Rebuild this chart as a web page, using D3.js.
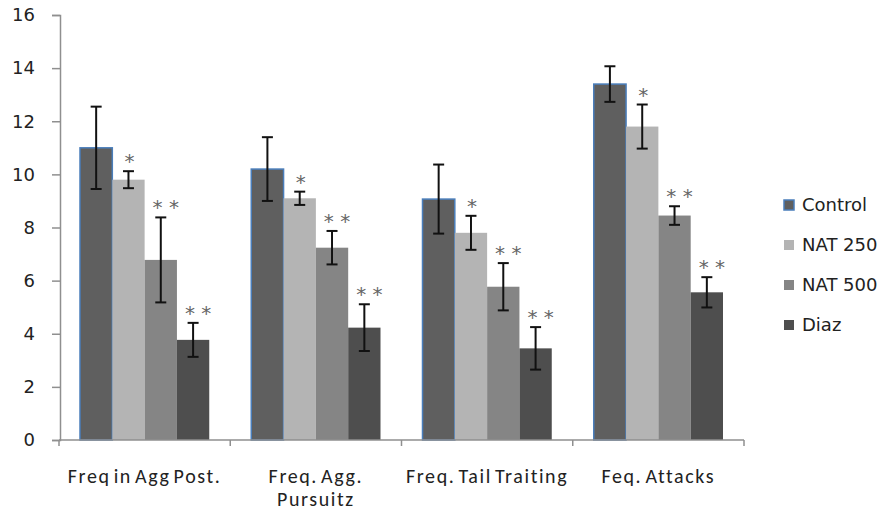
<!DOCTYPE html>
<html>
<head>
<meta charset="utf-8">
<script src="https://cdn.jsdelivr.net/npm/d3@7/dist/d3.min.js"></script>
<style>
  html, body { margin: 0; padding: 0; background: #fff; }
  svg { display: block; }
</style>
</head>
<body>
<svg id="chart" width="885" height="512"></svg>
<script>
// Behavioural measures per treatment group (mean ± SEM)
const categories = ["Freq in Agg Post.", "Freq. Agg. Pursuitz", "Freq. Tail Traiting", "Feq. Attacks"];
const seriesNames = ["Control", "NAT 250", "NAT 500", "Diaz"];
const controlValues = [11.0, 10.2, 9.07, 13.4];
const controlErrors = [1.55, 1.2, 1.3, 0.67];
const nat250Values = [9.8, 9.1, 7.8, 11.8];
const nat250Errors = [0.32, 0.25, 0.64, 0.83];
const nat500Values = [6.78, 7.24, 5.77, 8.45];
const nat500Errors = [1.6, 0.63, 0.89, 0.35];
const diazValues = [3.77, 4.23, 3.45, 5.56];
const diazErrors = [0.64, 0.88, 0.8, 0.57];
const significance = ["", "*", "* *", "* *"];
const yTicks = [0, 2, 4, 6, 8, 10, 12, 14, 16];

const seriesValues = [controlValues, nat250Values, nat500Values, diazValues];
const seriesErrors = [controlErrors, nat250Errors, nat500Errors, diazErrors];
const fills = ["#5f5f5f", "#b4b4b4", "#858585", "#4e4e4e"];
const strokes = ["#4a7ebb", "none", "none", "none"];

const rows = [];
categories.forEach((c, ci) => {
  seriesNames.forEach((s, si) => {
    rows.push({ category: c, series: s, si, value: seriesValues[si][ci], err: seriesErrors[si][ci], sig: significance[si] });
  });
});

const svg = d3.select("#chart");
const axisColor = "#8f8f8f";
const textColor = "#222";

const x0 = d3.scaleBand().domain(categories).range([59, 744]).padding(0);
const groupPad = 21;
const x1 = d3.scaleBand().domain(seriesNames).range([groupPad, x0.bandwidth() - groupPad]).padding(0);
const y = d3.scaleLinear().domain([0, 16]).range([440, 15]);

// Bars
const g = svg.append("g");
g.selectAll("rect.bar").data(rows).join("rect")
  .attr("class", "bar")
  .attr("x", d => x0(d.category) + x1(d.series))
  .attr("y", d => y(d.value))
  .attr("width", x1.bandwidth())
  .attr("height", d => y(0) - y(d.value))
  .attr("fill", d => fills[d.si])
  .attr("stroke", d => strokes[d.si])
  .attr("stroke-width", 1.5);

// Error bars
const capW = 11;
const cx = d => x0(d.category) + x1(d.series) + x1.bandwidth() / 2;
const eb = g.selectAll("g.err").data(rows).join("g").attr("class", "err")
  .attr("stroke", "#111").attr("stroke-width", 2);
eb.append("line")
  .attr("x1", cx).attr("x2", cx)
  .attr("y1", d => y(d.value + d.err))
  .attr("y2", d => y(d.value - d.err));
eb.append("line")
  .attr("x1", d => cx(d) - capW / 2).attr("x2", d => cx(d) + capW / 2)
  .attr("y1", d => y(d.value + d.err))
  .attr("y2", d => y(d.value + d.err));
eb.append("line")
  .attr("x1", d => cx(d) - capW / 2).attr("x2", d => cx(d) + capW / 2)
  .attr("y1", d => y(d.value - d.err))
  .attr("y2", d => y(d.value - d.err));

// Significance markers
g.selectAll("text.sig").data(rows.filter(d => d.sig)).join("text")
  .attr("class", "sig")
  .attr("x", d => cx(d) + (d.sig.length > 1 ? 5 : 1))
  .attr("y", d => y(d.value + d.err) - 3)
  .attr("text-anchor", "middle")
  .attr("font-family", "DejaVu Sans, sans-serif")
  .attr("font-size", 20)
  .attr("fill", "#666")
  .text(d => d.sig);

// Y axis
const yAxis = svg.append("g")
  .attr("transform", "translate(60,0)")
  .call(d3.axisLeft(y).tickValues(yTicks).tickSize(8).tickPadding(17).tickFormat(d3.format("d")));
yAxis.select(".domain").attr("stroke", axisColor).attr("stroke-width", 1.5);
yAxis.selectAll(".tick line").attr("stroke", axisColor).attr("stroke-width", 1.5);
yAxis.selectAll(".tick text")
  .attr("font-family", "DejaVu Sans, sans-serif")
  .attr("font-size", 18)
  .attr("fill", textColor);

// X axis baseline with boundary ticks
const boundaries = categories.map(c => x0(c)).concat([x0.range()[1]]);
svg.append("line")
  .attr("x1", x0.range()[0]).attr("x2", x0.range()[1])
  .attr("y1", y(0)).attr("y2", y(0))
  .attr("stroke", axisColor).attr("stroke-width", 1.5);
svg.selectAll("line.xtick").data(boundaries).join("line")
  .attr("class", "xtick")
  .attr("x1", d => d).attr("x2", d => d)
  .attr("y1", y(0)).attr("y2", y(0) + 6)
  .attr("stroke", axisColor).attr("stroke-width", 1.5);

// Category labels (wrapped where the text is too wide for its band)
const labelLines = {
  "Freq in Agg Post.": ["Freq in Agg Post."],
  "Freq. Agg. Pursuitz": ["Freq. Agg.", "Pursuitz"],
  "Freq. Tail Traiting": ["Freq. Tail Traiting"],
  "Feq. Attacks": ["Feq. Attacks"]
};
const xl = svg.selectAll("text.xlabel").data(categories).join("text")
  .attr("class", "xlabel")
  .attr("x", d => x0(d) + x0.bandwidth() / 2)
  .attr("y", 483)
  .attr("text-anchor", "middle")
  .attr("font-family", "Carlito, Lato, sans-serif")
  .attr("font-size", 20)
  .attr("letter-spacing", "1.6px")
  .attr("word-spacing", "-3px")
  .attr("fill", textColor);
xl.each(function (d) {
  const t = d3.select(this);
  labelLines[d].forEach((line, i) => {
    t.append("tspan")
      .attr("x", x0(d) + x0.bandwidth() / 2)
      .attr("dy", i === 0 ? 0 : 23)
      .text(line);
  });
});

// Legend
const legend = svg.append("g").attr("transform", "translate(784,205)");
const li = legend.selectAll("g").data(seriesNames).join("g")
  .attr("transform", (d, i) => `translate(0,${i * 40})`);
li.append("rect")
  .attr("x", 0).attr("y", -5).attr("width", 10).attr("height", 10)
  .attr("fill", (d, i) => fills[i])
  .attr("stroke", (d, i) => strokes[i])
  .attr("stroke-width", 1.5);
li.append("text")
  .attr("x", 18).attr("y", 0)
  .attr("dy", "0.36em")
  .attr("font-family", "DejaVu Sans, sans-serif")
  .attr("font-size", 18)
  .attr("fill", textColor)
  .text(d => d);
</script>
</body>
</html>
